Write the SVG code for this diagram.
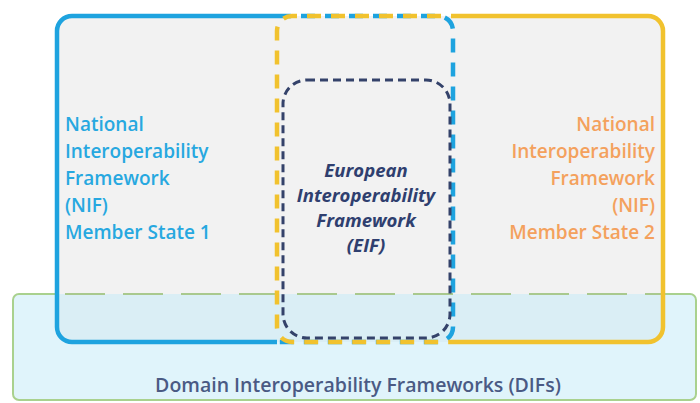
<svg xmlns="http://www.w3.org/2000/svg" width="700" height="403" viewBox="0 0 700 403">
<style>
.t{font-family:"Open Sans","Liberation Sans",sans-serif;font-weight:600;font-size:19px}
.blue{fill:#27a8e0}
.orange{fill:#f4a15d}
.eif{fill:#2f3f6f;font-style:italic;font-weight:700;text-anchor:middle;font-size:18.5px}
.dif{fill:#4a5a84;text-anchor:middle;font-size:19.5px}
.bs{fill:none;stroke:#1ea3df;stroke-width:4.5}
.ys{fill:none;stroke:#f1c22e;stroke-width:4.5}
</style>
<rect width="700" height="403" fill="#ffffff"/>
<g id="node-nif1">
<rect x="57" y="16" width="396" height="326" rx="15" fill="#f2f2f2"/>
</g>
<g id="node-nif2">
<rect x="277" y="16" width="386" height="326" rx="15" fill="#f2f2f2"/>
</g>
<g id="node-domain">
<rect x="13" y="294" width="683" height="106" rx="6" fill="#c1e9f7" fill-opacity="0.5"/>
<path d="M57 294 H19 A6 6 0 0 0 13 300 V394 A6 6 0 0 0 19 400 H690 A6 6 0 0 0 696 394 V300 A6 6 0 0 0 690 294 H663" fill="none" stroke="#a9d18e" stroke-width="2"/>
<path d="M57 294 H663" fill="none" stroke="#a9c98e" stroke-width="2" stroke-dasharray="40 18" stroke-dashoffset="-8"/>
<text class="t dif" x="358" y="392">Domain Interoperability Frameworks (DIFs)</text>
</g>
<g id="node-nif1-outline">
<path class="bs" d="M277 16 H72 A15 15 0 0 0 57 31 V327 A15 15 0 0 0 72 342 H277"/>
<path class="bs" d="M277 16 H438 A15 15 0 0 1 453 31 V327 A15 15 0 0 1 438 342 H277" stroke-dasharray="14 10"/>
<text class="t blue" x="65"><tspan x="65" y="131">National</tspan><tspan x="65" y="158">Interoperability</tspan><tspan x="65" y="185">Framework</tspan><tspan x="65" y="212">(NIF)</tspan><tspan x="65" y="239">Member State 1</tspan></text>
</g>
<g id="node-nif2-outline">
<path class="ys" d="M453 16 H648 A15 15 0 0 1 663 31 V327 A15 15 0 0 1 648 342 H453"/>
<path class="ys" d="M453 16 H292 A15 15 0 0 0 277 31 V327 A15 15 0 0 0 292 342 H453" stroke-dasharray="14 10" stroke-dashoffset="12"/>
<text class="t orange" text-anchor="end"><tspan x="655" y="131">National</tspan><tspan x="655" y="158">Interoperability</tspan><tspan x="655" y="185">Framework</tspan><tspan x="655" y="212">(NIF)</tspan><tspan x="655" y="239">Member State 2</tspan></text>
</g>
<g id="node-eif">
<rect x="283" y="80" width="167" height="258" rx="24" fill="none" stroke="#34426a" stroke-width="3" stroke-dasharray="8 5"/>
<text class="t eif"><tspan x="366" y="177">European</tspan><tspan x="366" y="202">Interoperability</tspan><tspan x="366" y="227">Framework</tspan><tspan x="366" y="252">(EIF)</tspan></text>
</g>
<g id="connectors"/>
</svg>
